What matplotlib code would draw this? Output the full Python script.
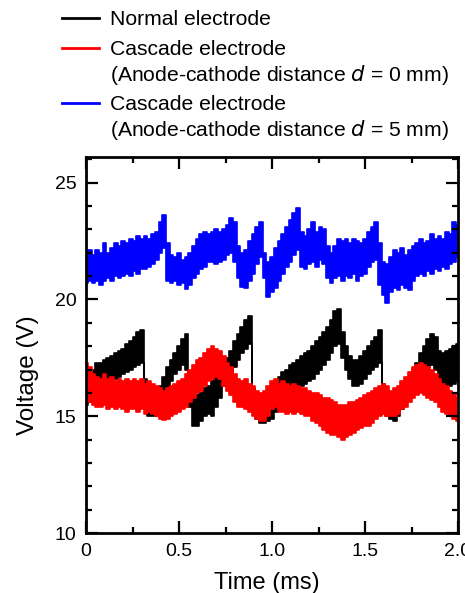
import numpy as np
import matplotlib
matplotlib.use("Agg")
import matplotlib.pyplot as plt
from matplotlib.lines import Line2D

plt.rcParams['font.family'] = ['Liberation Sans', 'DejaVu Sans']

# time axis (ms), sampled every 0.02 ms
time_ms = np.round(np.arange(0, 101) * 0.02, 2)

# Normal electrode: upper / lower envelope of the noisy trace (V)
black_hi = [16.1, 16.6, 17.0, 17.3, 17.3, 17.4, 17.5, 17.6, 17.7, 17.8,
            17.9, 18.1, 18.2, 18.4, 18.6, 18.7, 16.6, 15.4, 15.3, 15.4,
            16.3, 16.7, 17.1, 17.4, 17.7, 18.0, 18.3, 18.5, 16.0, 15.8,
            15.9, 16.0, 16.2, 16.3, 16.5, 16.8, 17.0, 17.2, 17.5, 17.8,
            18.2, 18.5, 18.8, 19.1, 19.3, 16.2, 15.4, 15.2, 15.2, 15.3,
            15.5, 16.3, 16.7, 16.9, 17.0, 17.2, 17.3, 17.4, 17.6, 17.7,
            17.8, 18.0, 18.2, 18.4, 18.6, 18.8, 19.1, 19.5, 19.6, 18.6,
            18.0, 17.6, 17.4, 17.4, 17.6, 17.8, 18.0, 18.2, 18.4, 18.7,
            16.4, 15.8, 15.5, 15.3, 15.6, 16.1, 16.4, 16.7, 17.0, 17.3,
            17.7, 18.0, 18.3, 18.5, 18.4, 17.8, 17.7, 17.8, 17.9, 18.0,
            18.1]
black_lo = [15.5, 15.6, 16.0, 16.3, 16.4, 16.5, 16.5, 16.6, 16.6, 16.7,
            16.8, 16.9, 17.0, 17.1, 17.2, 17.3, 15.6, 15.0, 15.0, 15.0,
            15.5, 15.9, 16.2, 16.5, 16.8, 17.0, 17.2, 17.0, 15.4, 14.6,
            14.6, 14.8, 15.0, 15.1, 15.0, 15.4, 15.8, 16.3, 16.5, 16.8,
            17.1, 17.4, 17.7, 17.9, 18.1, 15.2, 14.9, 14.7, 14.7, 14.8,
            14.9, 15.2, 15.4, 15.6, 15.8, 15.9, 16.0, 16.1, 16.3, 16.4,
            16.5, 16.6, 16.8, 17.0, 17.2, 17.4, 17.7, 18.0, 18.1, 17.5,
            17.0, 16.6, 16.3, 16.3, 16.4, 16.6, 16.8, 17.0, 17.1, 17.3,
            15.3, 15.0, 14.9, 14.8, 15.0, 15.3, 15.6, 15.8, 16.0, 16.3,
            16.6, 16.9, 17.1, 17.2, 17.0, 16.5, 16.4, 16.3, 16.3, 16.4,
            16.5]

# Cascade electrode, d = 0 mm
red_hi = [17.3, 17.1, 16.8, 16.7, 16.6, 16.8, 16.6, 16.7, 16.5, 16.6,
          16.5, 16.6, 16.5, 16.6, 16.5, 16.6, 16.4, 16.5, 16.4, 16.3,
          16.2, 16.1, 16.2, 16.3, 16.4, 16.5, 16.6, 16.8, 17.0, 17.2,
          17.4, 17.5, 17.7, 17.9, 18.0, 17.9, 17.8, 17.6, 17.3, 17.1,
          16.8, 16.6, 16.5, 16.6, 16.4, 16.3, 16.1, 16.0, 16.1, 16.3,
          16.5, 16.6, 16.4, 16.5, 16.4, 16.3, 16.4, 16.3, 16.2, 16.2,
          16.1, 16.0, 16.0, 15.9, 15.8, 15.8, 15.7, 15.6, 15.5, 15.5,
          15.5, 15.6, 15.6, 15.7, 15.8, 15.9, 16.0, 16.1, 16.2, 16.3,
          16.4, 16.3, 16.1, 16.2, 16.3, 16.5, 16.7, 16.9, 17.1, 17.2,
          17.3, 17.2, 17.1, 17.0, 16.8, 16.6, 16.4, 16.3, 16.1, 16.0,
          15.8]
red_lo = [15.6, 15.6, 15.5, 15.4, 15.4, 15.5, 15.3, 15.4, 15.3, 15.4,
          15.3, 15.2, 15.3, 15.3, 15.2, 15.3, 15.1, 15.2, 15.1, 15.0,
          14.9, 14.85, 14.9, 15.0, 15.1, 15.2, 15.3, 15.4, 15.6, 15.8,
          16.0, 16.1, 16.3, 16.5, 16.6, 16.7, 16.6, 16.3, 16.1, 15.9,
          15.6, 15.4, 15.4, 15.3, 15.2, 15.0, 14.9, 14.8, 14.8, 15.0,
          15.3, 15.4, 15.2, 15.2, 15.1, 15.2, 15.1, 15.2, 15.1, 15.0,
          15.0, 14.8, 14.7, 14.6, 14.4, 14.3, 14.2, 14.2, 14.1, 14.0,
          14.1, 14.2, 14.3, 14.4, 14.5, 14.6, 14.6, 14.7, 14.9, 15.0,
          15.1, 15.0, 15.0, 15.0, 15.1, 15.3, 15.4, 15.6, 15.8, 15.9,
          16.0, 15.9, 15.8, 15.7, 15.6, 15.4, 15.2, 15.1, 15.0, 14.9,
          14.8]

# Cascade electrode, d = 5 mm
blue_hi = [22.0, 22.1, 21.9, 22.1, 22.0, 22.4, 22.0, 22.2, 22.4, 22.3,
           22.5, 22.4, 22.6, 22.5, 22.7, 22.6, 22.7, 22.6, 22.8, 22.9,
           23.3, 23.6, 22.4, 21.9, 21.8, 22.0, 21.7, 21.8, 22.0, 22.3,
           22.6, 22.8, 22.9, 22.8, 22.9, 23.0, 22.9, 23.0, 23.2, 23.5,
           23.3, 22.3, 22.0, 22.1, 22.5, 22.8, 23.1, 23.3, 22.0, 21.6,
           21.8, 22.2, 22.5, 22.8, 23.1, 23.4, 23.7, 23.9, 22.9, 22.7,
           23.0, 23.3, 22.9, 23.1, 23.0, 22.3, 22.0, 22.3, 22.6, 22.5,
           22.6, 22.4, 22.6, 22.5, 22.4, 22.6, 22.9, 23.1, 23.3, 22.4,
           21.6, 21.5, 21.8, 22.1, 22.0, 22.2, 21.9, 22.1, 22.3, 22.4,
           22.6, 22.4, 22.5, 22.8, 22.6, 22.7, 22.6, 22.9, 22.8, 23.3,
           23.2]
blue_lo = [20.7, 20.8, 20.7, 20.8, 20.6, 20.8, 20.9, 20.8, 21.0, 20.9,
           21.0, 21.1, 21.0, 21.2, 21.1, 21.3, 21.3, 21.4, 21.5, 21.7,
           22.0, 22.2, 20.8, 20.7, 20.8, 20.6, 20.7, 20.45, 20.6, 20.9,
           21.1, 21.3, 21.4, 21.6, 21.6, 21.5, 21.6, 21.7, 21.9, 22.0,
           21.6, 20.9, 20.55, 20.5, 20.8, 21.1, 21.5, 21.8, 20.9, 20.1,
           20.3, 20.5, 20.8, 21.1, 21.4, 21.6, 21.9, 22.1, 21.4, 21.3,
           21.5, 21.6, 21.4, 21.7, 21.5, 20.9, 20.7, 20.9, 21.0, 20.8,
           21.0, 20.9, 21.1, 20.8, 21.0, 21.1, 21.4, 21.6, 21.7, 20.6,
           20.2, 19.85, 20.3, 20.5, 20.4, 20.6, 20.5, 20.4, 20.8, 21.0,
           21.1, 21.0, 21.2, 21.1, 21.3, 21.2, 21.4, 21.3, 21.5, 21.6,
           21.8]

series_labels = ["Normal electrode",
                 "Cascade electrode\n(Anode-cathode distance $\\mathit{d}$ = 0 mm)",
                 "Cascade electrode\n(Anode-cathode distance $\\mathit{d}$ = 5 mm)"]
series_colors = ["#000000", "#ff0000", "#0000ff"]

x_ticks = [0, 0.5, 1.0, 1.5, 2.0]
x_ticklabels = ["0", "0.5", "1.0", "1.5", "2.0"]
y_ticks = [10, 15, 20, 25]

W, H = 465, 593
fig = plt.figure(figsize=(W / 100, H / 100), dpi=100)
ax = fig.add_axes([86 / W, 1 - 533 / H, (458 - 86) / W, (533 - 157) / H])

for lo, hi, c in [(black_lo, black_hi, series_colors[0]),
                  (red_lo, red_hi, series_colors[1]),
                  (blue_lo, blue_hi, series_colors[2])]:
    ax.fill_between(time_ms, lo, hi, step='mid', color=c, lw=1.2, edgecolor=c)

ax.set_xlim(0, 2.0)
ax.set_ylim(10, 26.1)
ax.set_xticks(x_ticks)
ax.set_xticklabels(x_ticklabels)
ax.set_yticks(y_ticks)
ax.set_xticks(np.arange(0, 2.01, 0.25), minor=True)
ax.set_yticks(np.arange(10, 26.1, 1), minor=True)
ax.tick_params(which='both', direction='in', top=True, right=True,
               labelsize=14, width=1.6, pad=7)
ax.tick_params(which='major', length=8.5)
ax.tick_params(which='minor', length=4.3)
for s in ax.spines.values():
    s.set_linewidth(2.0)

ax.set_xlabel("Time (ms)", fontsize=17)
ax.set_ylabel("Voltage (V)", fontsize=17.5)
ax.xaxis.set_label_coords((267 - 86) / 372, (533 - 583) / 376)
ax.xaxis.label.set_verticalalignment('center')
ax.yaxis.set_label_coords((28 - 86) / 372, (533 - 375) / 376)
ax.yaxis.label.set_verticalalignment('center')

# legend drawn in figure pixel positions
rows = [18, 48, 103]
for lab, col, ry in zip(series_labels, series_colors, rows):
    fig.add_artist(Line2D([62 / W, 99 / W], [1 - ry / H, 1 - ry / H],
                          color=col, lw=2.0, transform=fig.transFigure))
    fig.text(110 / W, 1 - (ry - 8) / H, lab, fontsize=15.2, ha='left',
             va='top', linespacing=1.22)

fig.savefig("out.png", dpi=100)
